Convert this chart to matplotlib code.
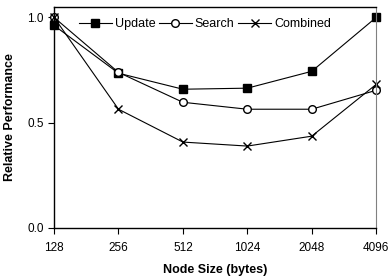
import matplotlib.pyplot as plt
import numpy as np

plt.rcParams['font.family'] = ['Liberation Sans', 'DejaVu Sans']

# node sizes and relative performance
sizes = ['128', '256', '512', '1024', '2048', '4096']
update = [0.962, 0.735, 0.659, 0.664, 0.744, 1.0]
search = [1.0, 0.739, 0.597, 0.564, 0.564, 0.654]
combined = [1.0, 0.564, 0.408, 0.389, 0.436, 0.682]

x = np.arange(len(sizes))

fig = plt.figure(figsize=(3.89, 2.76), dpi=100)
ax = fig.add_axes([0.139, 0.174, 0.828, 0.801])

ax.plot(x, update, color='black', lw=0.8, marker='s', ms=5.5, label='Update', clip_on=False)
ax.plot(x, search, color='black', lw=0.8, marker='o', ms=5.5, mfc='white', label='Search', clip_on=False)
ax.plot(x, combined, color='black', lw=0.8, marker='x', ms=6, mew=1, label='Combined', clip_on=False)

ax.set_xlim(0, 5)
ax.set_ylim(0, 1.05)
ax.set_xticks(x)
ax.set_xticklabels(sizes)
ax.set_yticks([0.0, 0.5, 1.0])
ax.set_yticklabels(['0.0', '0.5', '1.0'])
ax.tick_params(labelsize=8.5, length=4, width=0.8)
ax.tick_params(axis='x', pad=6)
ax.spines['right'].set_color('grey')
for s in ['left', 'bottom', 'top']:
    ax.spines[s].set_linewidth(1)

ax.set_xlabel('Node Size (bytes)', fontsize=9, fontweight='bold', labelpad=7)
ax.set_ylabel('Relative Performance', fontsize=9, fontweight='bold', labelpad=8)

ax.legend(loc='upper left', bbox_to_anchor=(0.078, 0.95), ncol=3, frameon=False,
          borderpad=0, borderaxespad=0,
          fontsize=9, handlelength=2.6, handletextpad=0.25, columnspacing=0.3)

fig.savefig('out.png', dpi=100)
